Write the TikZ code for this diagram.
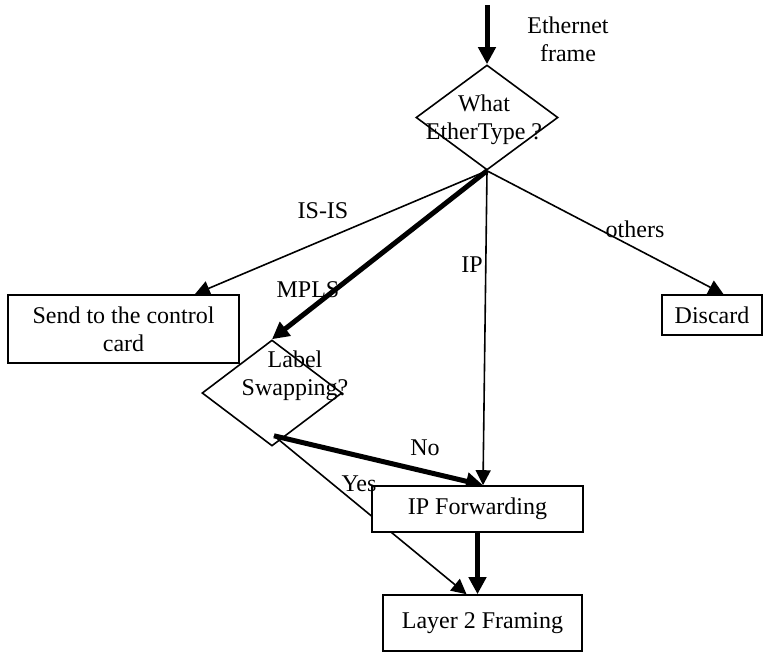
\documentclass[tikz,border=0pt]{standalone}
\usepackage{fontspec}
\setmainfont{Liberation Serif}
\usetikzlibrary{
  arrows.meta,
  backgrounds,
  positioning,
  shapes.geometric,
}
\tikzset{
  >={Triangle[length=15pt,width=15pt]},
  box/.style={draw,rectangle,fill=white,line width=1.6pt,inner sep=0pt,align=center},
  decision/.style={draw,diamond,line width=1.6pt,inner sep=0pt},
  lbl/.style={anchor=base,align=center},
  flow/.style={->,line width=1.6pt},
  bigflow/.style={-{Triangle[length=17pt,width=17pt]},line width=5pt},
}
\begin{document}
\begin{tikzpicture}[x=1pt,y=-1pt,font=\fontsize{24}{28}\selectfont]
        \useasboundingbox (0,0) rectangle (763,654);

        \coordinate (in) at (487,5);
        \node[decision,minimum width=142,minimum height=105]    (etype) at (487,117.5)    {};
        \node[decision,minimum width=140,minimum height=106]    (lswap) at (272,393)    {};
        \node[box,minimum width=231,minimum height=68]    (ctrl) at (123.5,329)    {Send to the control\\card};
        \node[box,minimum width=100,minimum height=40]    (disc) at (712,315)    {Discard};
        \node[box,minimum width=211,minimum height=46]    (ipf) at (477.5,509)    {IP Forwarding};
        \node[box,minimum width=199,minimum height=56]    (l2) at (482.5,623)    {Layer 2 Framing};

        \node[lbl]    (frame) at (568,61)    {Ethernet\\frame};
        \node[lbl]    (etypeq) at (484,139)    {What\\EtherType ?};
        \node[lbl]    (lswapq) at (295,395)    {Label\\Swapping?};
        \node[lbl]    (isis) at (323,218)    {IS-IS};
        \node[lbl]    (mpls) at (308,297)    {MPLS};
        \node[lbl]    (ip) at (472,272)    {IP};
        \node[lbl]    (others) at (635,237)    {others};
        \node[lbl]    (no) at (425,455)    {No};
        \node[lbl]    (yes) at (359,491)    {Yes};

        \begin{scope}[on background layer]
        \draw[bigflow] (in) -- (etype.north);
        \draw[flow] (etype.south) -- (ctrl.26);
        \draw[bigflow] (etype.south) -- (lswap.north);
        \draw[flow] (etype.south) -- (ipf.77);
        \draw[flow] (etype.south) -- (disc.61);
        \draw[bigflow] ([xshift=2pt,yshift=11pt]lswap.south) -- (ipf.77);
        \draw[flow] ([xshift=2pt,yshift=11pt]lswap.south) -- (l2.119);
        \draw[bigflow] (ipf.south) -- (ipf.south |- l2.north);
        \end{scope}

    \end{tikzpicture}
\end{document}
